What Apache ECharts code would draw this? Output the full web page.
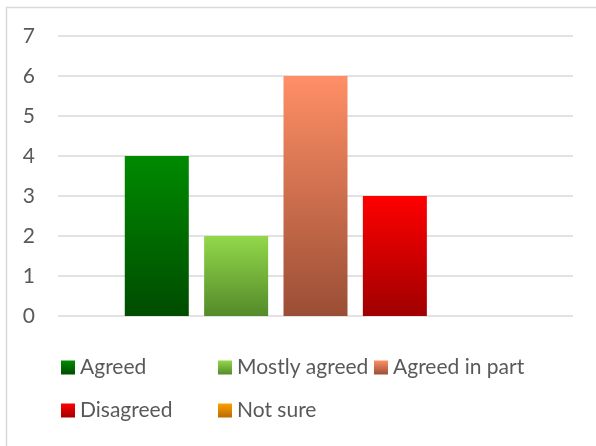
<!DOCTYPE html>
<html>
<head>
<meta charset="utf-8">
<script src="https://cdn.jsdelivr.net/npm/echarts@6/dist/echarts.min.js"></script>
<style>html,body{margin:0;padding:0;background:#fff}#c{width:596px;height:446px}</style>
</head>
<body>
<div id="c"></div>
<script>
const categories = [''];
const seriesNames = ['Agreed', 'Mostly agreed', 'Agreed in part', 'Disagreed', 'Not sure'];
const seriesValues = [4, 2, 6, 3, 0];
const yTicks = [0, 1, 2, 3, 4, 5, 6, 7];
const topColors = ['#008a00', '#92d84a', '#ff8f66', '#ff0000', '#ffa000'];
const bottomColors = ['#004c00', '#548a2a', '#9a4e35', '#a00000', '#b86a00'];

const legendPos = [[61, 357], [218, 357], [374, 357], [61, 400], [218, 400]];

function grad(i) {
  return new echarts.graphic.LinearGradient(0, 0, 0, 1, [
    {offset: 0, color: topColors[i]},
    {offset: 1, color: bottomColors[i]}
  ]);
}

const chart = echarts.init(document.getElementById('c'), null, {renderer: 'canvas'});
const font = 'Lato, "Open Sans", sans-serif';
chart.setOption({
  animation: false,
  backgroundColor: '#fff',
  graphic: [{
    type: 'rect', shape: {x: 6.5, y: 7.5, width: 700, height: 700},
    style: {fill: 'none', stroke: '#d9d9d9', lineWidth: 1.5}, silent: true, z: -1
  }],
  grid: {left: 58, right: 23, top: 36, bottom: 130},
  legend: seriesNames.map((n, i) => ({
    data: [n], left: legendPos[i][0], top: legendPos[i][1],
    itemWidth: 14, itemHeight: 14, itemGap: 0, padding: 0,
    icon: 'rect',
    textStyle: {fontFamily: font, fontSize: 21, color: '#595959', lineHeight: 21, padding: [0, 0, 0, 0]},
    selectedMode: false
  })),
  xAxis: {
    type: 'category', data: categories,
    axisLine: {show: false}, axisTick: {show: false}, axisLabel: {show: false}
  },
  yAxis: {
    type: 'value', min: yTicks[0], max: yTicks[yTicks.length - 1], interval: 1,
    axisLine: {show: false}, axisTick: {show: false},
    axisLabel: {margin: 23, fontFamily: font, fontSize: 21, color: '#595959'},
    splitLine: {lineStyle: {color: '#d9d9d9', width: 1.5}}
  },
  series: seriesNames.map((n, i) => ({
    name: n, type: 'bar', data: [seriesValues[i]],
    barWidth: 64, barGap: '24%',
    itemStyle: {color: grad(i)}
  }))
});
</script>
</body>
</html>
